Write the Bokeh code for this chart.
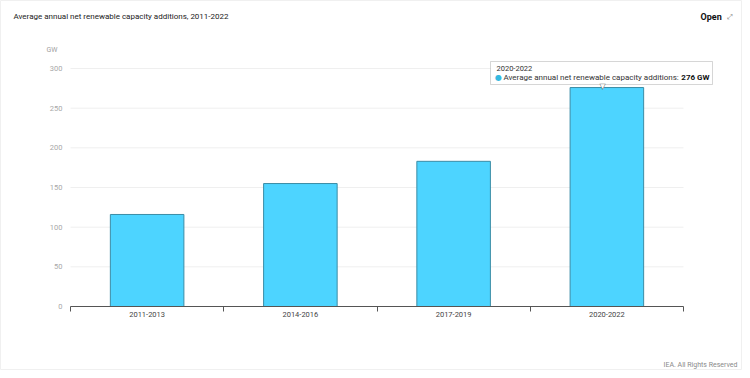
from bokeh.plotting import figure
from bokeh.models import (Range1d, FixedTicker, Label, BoxAnnotation, ColumnDataSource)
from bokeh.embed import file_html
from bokeh.resources import INLINE

categories = ["2011-2013", "2014-2016", "2017-2019", "2020-2022"]
values = [116, 155, 183, 276]
y_ticks = [0, 50, 100, 150, 200, 250, 300]
series_name = "Average annual net renewable capacity additions"
unit = "GW"

FONT = "Roboto"
BAR = "#4dd4ff"
BAR_LINE = "#3b8ca6"

W, H = 742, 370
# plot region in pixels (left, right, top, bottom)
PL, PR, PT, PB = 70, 683, 68, 306
n = len(categories)
ymax = y_ticks[-1]
xpx = (PR - PL) / n
ypx = (PB - PT) / ymax

xs = [i + 0.5 for i in range(n)]
src = ColumnDataSource(dict(x=xs, top=values, cat=categories))

p = figure(width=W, height=H, output_backend="svg", toolbar_location=None,
           x_range=Range1d(-PL / xpx, n + (W - PR) / xpx),
           y_range=Range1d(-(H - PB) / ypx, ymax + PT / ypx),
           min_border=0)
p.outline_line_color = "#f0f0f0"
p.xgrid.visible = False
p.ygrid.visible = False

# grid lines limited to the plot region
gy = y_ticks[1:]
p.segment(x0=[0] * len(gy), x1=[n] * len(gy), y0=gy, y1=gy,
          line_color="#efefef", line_width=1)

p.vbar(x="x", top="top", width=0.48, bottom=0, source=src,
       fill_color=BAR, line_color=BAR_LINE, line_width=1)

yax = p.yaxis[0]
yax.fixed_location = 0
yax.ticker = FixedTicker(ticks=y_ticks)
yax.axis_line_color = None
yax.major_tick_line_color = None
yax.major_tick_out = 0
yax.major_tick_in = 0
yax.minor_tick_line_color = None
yax.major_label_standoff = 8
yax.major_label_text_font = FONT
yax.major_label_text_font_size = "7.5px"
yax.major_label_text_color = "#a8a8a8"

xax = p.xaxis[0]
xax.fixed_location = 0
xax.bounds = (0, n)
xax.ticker = FixedTicker(ticks=xs, minor_ticks=list(range(n + 1)))
xax.major_label_overrides = {x: c for x, c in zip(xs, categories)}
xax.major_tick_line_color = None
xax.major_tick_out = 0
xax.major_tick_in = 0
xax.minor_tick_line_color = "#555555"
xax.minor_tick_in = 0
xax.minor_tick_out = 5
xax.axis_line_color = "#555555"
xax.major_label_standoff = 0
xax.major_label_text_font = FONT
xax.major_label_text_font_size = "7.5px"
xax.major_label_text_color = "#444444"

def lab(text, px, py, size, color="#222222", bold=False, align="left", font=FONT,
        baseline="middle", **kw):
    p.add_layout(Label(text=text, x=px, y=H - py, x_units="screen", y_units="screen",
                       text_font=font, text_font_size=size, text_color=color,
                       text_font_style="bold" if bold else "normal",
                       text_align=align, text_baseline=baseline, **kw))

lab(series_name + ", 2011-2022", 13, 16, "8px", "#222222")
lab(unit, 46, 49, "7px", "#a0a0a0")
lab("Open", 700, 16, "9px", "#111111", bold=True)
lab("\u2922", 729, 16, "7px", "#777777", font="DejaVu Sans", align="center")
lab("IEA. All Rights Reserved", 737, 364, "7px", "#8a8a8a", align="right")

# tooltip
p.add_layout(BoxAnnotation(left=490, right=712, top=H - 61, bottom=H - 84,
                           left_units="screen", right_units="screen",
                           top_units="screen", bottom_units="screen",
                           fill_color="white", fill_alpha=1,
                           line_color="#777777", line_width=1))
lab("\u25BC", 602, 86, "8px", "#777777", font="DejaVu Sans", align="center")
lab("\u25BC", 602, 85, "6px", "white", font="DejaVu Sans", align="center")
lab(categories[-1], 496, 68, "7.5px", "#333333")
lab("\u25CF", 498, 77, "8px", "#35b9e0", font="DejaVu Sans", align="center")
lab(series_name + ":", 503, 77, "8px", "#333333")
lab(f"{values[-1]} {unit}", 709, 77, "8px", "#111111", bold=True, align="right")

open("out.html", "w").write(file_html(p, INLINE))
